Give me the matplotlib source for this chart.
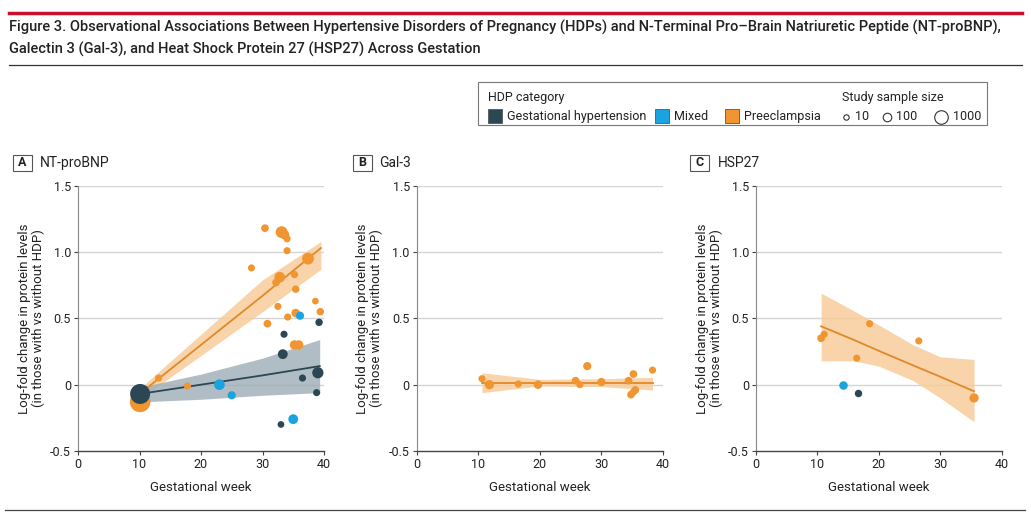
import matplotlib
matplotlib.use("Agg")
import matplotlib.pyplot as plt
from matplotlib.patches import Rectangle
from matplotlib.lines import Line2D

plt.rcParams["font.family"] = ["Roboto", "DejaVu Sans"]

DARK = "#2b4754"
BLUE = "#1aa3df"
ORANGE = "#f0952f"
ORANGE_LINE = "#e0892a"
ORANGE_BAND = "#f9cc9a"
DARK_BAND = "#9eadb7"

# ---- panel A: NT-proBNP ----
a_pe_week = [30.4, 33.1, 33.6, 34.0, 34.0, 37.4, 28.2, 35.2, 32.8, 32.2, 35.4, 38.6,
             32.5, 35.4, 39.4, 30.8, 34.1, 35.2, 35.9, 13.1, 17.8, 10.1]
a_pe_lfc = [1.18, 1.15, 1.13, 1.10, 1.01, 0.95, 0.88, 0.83, 0.81, 0.77, 0.72, 0.63,
            0.59, 0.54, 0.55, 0.46, 0.51, 0.30, 0.30, 0.05, -0.01, -0.13]
a_pe_n = [60, 500, 150, 40, 40, 500, 40, 40, 300, 60, 50, 30,
          40, 100, 50, 60, 40, 150, 150, 40, 40, 8000]

a_gh_week = [10.1, 33.5, 33.3, 39.2, 39.0, 36.5, 38.8, 33.0]
a_gh_lfc = [-0.07, 0.38, 0.23, 0.47, 0.09, 0.05, -0.06, -0.30]
a_gh_n = [7000, 40, 200, 50, 400, 40, 40, 30]

a_mx_week = [23.0, 25.0, 36.1, 35.0]
a_mx_lfc = [0.0, -0.08, 0.52, -0.26]
a_mx_n = [300, 80, 80, 200]

a_pe_fit_week = [10, 20, 30, 39.5]
a_pe_fit = [-0.07, 0.30, 0.67, 1.03]
a_pe_lo = [-0.11, 0.22, 0.55, 0.87]
a_pe_hi = [-0.03, 0.38, 0.79, 1.08]

a_gh_fit_week = [10, 20, 30, 39.3]
a_gh_fit = [-0.07, 0.0, 0.07, 0.14]
a_gh_lo = [-0.13, -0.11, -0.08, -0.06]
a_gh_hi = [-0.02, 0.08, 0.20, 0.34]

# ---- panel B: Gal-3 ----
b_pe_week = [10.6, 11.8, 16.5, 19.7, 25.8, 26.5, 27.7, 30.0, 34.4, 35.2, 34.8, 35.2, 35.5, 38.3]
b_pe_lfc = [0.045, 0.0, 0.005, 0.0, 0.03, 0.0, 0.14, 0.02, 0.03, 0.08, -0.075, -0.055, -0.04, 0.11]
b_pe_n = [40, 150, 40, 100, 60, 40, 80, 80, 60, 60, 60, 40, 60, 40]

b_pe_fit_week = [10.6, 20, 30, 38.3]
b_pe_fit = [0.015, 0.015, 0.015, 0.015]
b_pe_lo = [-0.06, -0.01, -0.015, -0.04]
b_pe_hi = [0.09, 0.04, 0.045, 0.055]

# ---- panel C: HSP27 ----
c_pe_week = [10.6, 11.1, 16.4, 18.5, 26.5, 35.5]
c_pe_lfc = [0.35, 0.38, 0.20, 0.46, 0.33, -0.10]
c_pe_n = [60, 40, 40, 40, 40, 150]
c_mx_week = [14.2]
c_mx_lfc = [0.0]
c_mx_n = [100]
c_gh_week = [16.6]
c_gh_lfc = [-0.065]
c_gh_n = [50]

c_pe_fit_week = [10.6, 15.8, 20, 25.6, 30, 35.5]
c_pe_fit = [0.44, 0.34, 0.255, 0.145, 0.06, -0.05]
c_pe_lo = [0.18, 0.18, 0.14, 0.03, -0.10, -0.28]
c_pe_hi = [0.69, 0.56, 0.45, 0.30, 0.21, 0.19]

legend_sizes = [10, 100, 1000]


def msize(n):
    return [6 * v ** 0.4 for v in n]


fig = plt.figure(figsize=(10.31, 5.15), dpi=100)
W, H = 1031, 515

# header rules and title
fig.add_artist(Line2D([9 / W, 1022 / W], [1 - 13 / H, 1 - 13 / H], color="#c8102e", lw=2.5))
fig.add_artist(Line2D([9 / W, 1022 / W], [1 - 65 / H, 1 - 65 / H], color="#333333", lw=0.9))
fig.add_artist(Line2D([5 / W, 1025 / W], [1 - 510 / H, 1 - 510 / H], color="#444444", lw=0.9))
fig.text(9 / W, 1 - 27 / H,
         "Figure 3. Observational Associations Between Hypertensive Disorders of Pregnancy (HDPs) "
         "and N-Terminal Pro\u2013Brain Natriuretic Peptide (NT-proBNP),",
         fontsize=10.5, fontweight="medium", color="#222222", va="center", ha="left")
fig.text(9 / W, 1 - 49 / H,
         "Galectin 3 (Gal-3), and Heat Shock Protein 27 (HSP27) Across Gestation",
         fontsize=10.5, fontweight="medium", color="#222222", va="center", ha="left")

# legend box
fig.add_artist(Rectangle((478 / W, 1 - 125 / H), (987 - 478) / W, (125 - 82) / H,
                         transform=fig.transFigure, fill=False, ec="#777777", lw=0.8))
fig.text(488 / W, 1 - 97 / H, "HDP category", fontsize=9, va="center", color="#222222")
for x0, col, lab in [(488, DARK, "Gestational hypertension"), (655, BLUE, "Mixed"),
                     (725, ORANGE, "Preeclampsia")]:
    fig.add_artist(Rectangle((x0 / W, 1 - 123 / H), 14 / W, 14 / H, transform=fig.transFigure,
                             fc=col, ec="#555555", lw=0.6))
    fig.text((x0 + 19) / W, 1 - 116.5 / H, lab, fontsize=9, va="center", color="#222222")
fig.text(842 / W, 1 - 97 / H, "Study sample size", fontsize=9, va="center", color="#222222")
lax = fig.add_axes([0, 0, 1, 1], zorder=-1)
lax.set_xlim(0, W)
lax.set_ylim(H, 0)
lax.axis("off")
for cx, n in zip([846, 887, 941], legend_sizes):
    lax.scatter([cx], [116.5], s=msize([n]), fc="white", ec="#333333", lw=0.8)
    fig.text((cx + 9 + (0 if n < 1000 else 3)) / W, 1 - 116.5 / H, str(n), fontsize=9,
             va="center", color="#222222")


def setup(ax, letter, name, box_x, text_x):
    ax.set_xlim(0, 40)
    ax.set_ylim(-0.5, 1.5)
    ax.set_xticks([0, 10, 20, 30, 40])
    ax.set_yticks([-0.5, 0, 0.5, 1.0, 1.5])
    ax.set_yticklabels(["-0.5", "0", "0.5", "1.0", "1.5"])
    for y in [0, 0.5, 1.0, 1.5]:
        ax.axhline(y, color="#d4d4d4", lw=1.0, zorder=0)
    for s in ["top", "right"]:
        ax.spines[s].set_visible(False)
    ax.spines["left"].set_color("#888888")
    ax.spines["bottom"].set_color("#444444")
    ax.spines["bottom"].set_linewidth(1.0)
    ax.tick_params(direction="out", length=3, width=0.8, colors="#444444",
                   labelsize=9, labelcolor="#222222", pad=2)
    ax.set_xlabel("Gestational week", fontsize=9.5, color="#222222", labelpad=7)
    ax.set_ylabel("Log-fold change in protein levels\n(in those with vs without HDP)",
                  fontsize=9.5, color="#222222", labelpad=4, linespacing=1.05)
    fig.add_artist(Rectangle((box_x / W, 1 - 171 / H), 19 / W, 16 / H, transform=fig.transFigure,
                             fill=False, ec="#555555", lw=0.8))
    fig.text((box_x + 9.5) / W, 1 - 163 / H, letter, fontsize=9, fontweight="bold",
             ha="center", va="center", color="#222222")
    fig.text(text_x / W, 1 - 163 / H, name, fontsize=10, va="center", color="#222222")


def band(ax, wk, fit, lo, hi, lcol, bcol, alpha):
    ax.fill_between(wk, lo, hi, color=bcol, alpha=alpha, lw=0, zorder=1)
    ax.plot(wk, fit, color=lcol, lw=1.3, zorder=2)


bot = (515 - 451) / H
hgt = 265.3 / H
axA = fig.add_axes([78 / W, bot, 246 / W, hgt])
axB = fig.add_axes([416.7 / W, bot, 246.3 / W, hgt])
axC = fig.add_axes([756 / W, bot, 245.7 / W, hgt])

setup(axA, "A", "NT-proBNP", 13, 40)
setup(axB, "B", "Gal-3", 353, 379)
setup(axC, "C", "HSP27", 690, 718)

# panel A
band(axA, a_pe_fit_week, a_pe_fit, a_pe_lo, a_pe_hi, ORANGE_LINE, ORANGE_BAND, 0.85)
band(axA, a_gh_fit_week, a_gh_fit, a_gh_lo, a_gh_hi, DARK, DARK_BAND, 0.8)
axA.scatter(a_pe_week, a_pe_lfc, s=msize(a_pe_n), color=ORANGE, lw=0, zorder=3)
axA.scatter(a_gh_week, a_gh_lfc, s=msize(a_gh_n), color=DARK, lw=0, zorder=4)
axA.scatter(a_mx_week, a_mx_lfc, s=msize(a_mx_n), color=BLUE, lw=0, zorder=4)

# panel B
band(axB, b_pe_fit_week, b_pe_fit, b_pe_lo, b_pe_hi, ORANGE_LINE, ORANGE_BAND, 0.85)
axB.scatter(b_pe_week, b_pe_lfc, s=msize(b_pe_n), color=ORANGE, lw=0, zorder=3)

# panel C
band(axC, c_pe_fit_week, c_pe_fit, c_pe_lo, c_pe_hi, ORANGE_LINE, ORANGE_BAND, 0.85)
axC.scatter(c_pe_week, c_pe_lfc, s=msize(c_pe_n), color=ORANGE, lw=0, zorder=3)
axC.scatter(c_mx_week, c_mx_lfc, s=msize(c_mx_n), color=BLUE, lw=0, zorder=4)
axC.scatter(c_gh_week, c_gh_lfc, s=msize(c_gh_n), color=DARK, lw=0, zorder=4)

for ax in (axA, axB, axC):
    ax.set_facecolor("none")

fig.savefig("out.png", dpi=100, facecolor="white")
